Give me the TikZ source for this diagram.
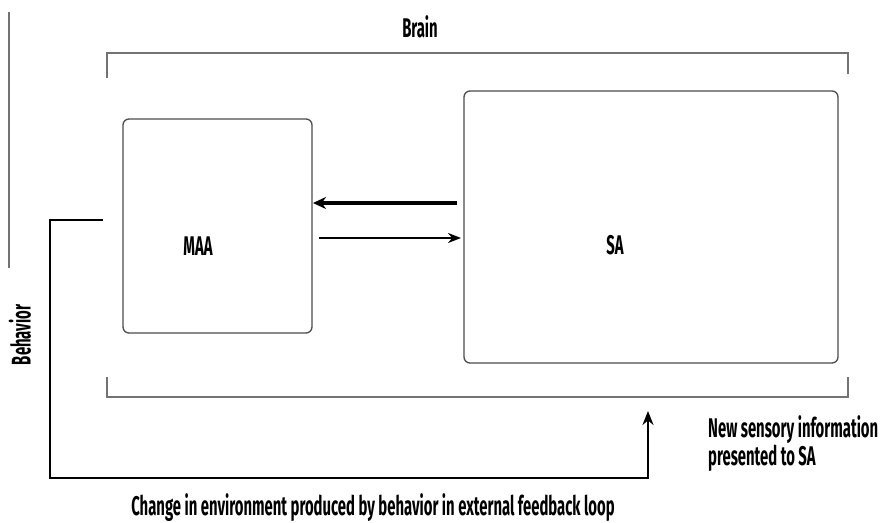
\documentclass[tikz,border=0pt]{standalone}
\usepackage{fontspec}
\setmainfont{Fira Sans}[FakeStretch=0.55]
\usetikzlibrary{arrows.meta}
\begin{document}
\begin{tikzpicture}[x=1pt,y=-1pt,
  bracket/.style={draw=black!55,line width=1.4pt},
  box/.style={draw=black!70,line width=1.3pt,rounded corners=6pt},
  loop/.style={draw=black,line width=2.6pt},
  lbl/.style={font=\fontsize{27}{28}\selectfont\bfseries,inner sep=0pt}]
\useasboundingbox (0,0) rectangle (883,522);
% left margin line
\draw[draw=black!55,line width=1.3pt] (9,12) -- (9,268);
% brain brackets
\node[lbl] (brain) at (420,27) {Brain};
\draw[bracket] (107,78) -- (107,53) -- (848,53) -- (848,74);
\draw[bracket] (107,377) -- (107,397) -- (848,397) -- (848,377);
% boxes
\node[box,minimum width=189pt,minimum height=214pt] (maa) at (217.5,226) {};
\node[lbl] at (198,246) {MAA};
\node[box,minimum width=374pt,minimum height=272pt] (sa) at (651,227) {};
\node[lbl] at (615,245) {SA};
% arrows between
\coordinate (a1s) at (457,203);
\coordinate (a1e) at (313,203);
\draw[line width=4pt,-{Stealth[length=13pt,width=12pt]}] (a1s) -- (a1e);
\coordinate (a2s) at (319,238);
\coordinate (a2e) at (461,238);
\draw[line width=1.8pt,-{Stealth[length=13pt,width=10pt]}] (a2s) -- (a2e);
% feedback loop
\coordinate (fb1) at (103,220);
\coordinate (fb2) at (648,411);
\draw[loop,-{Stealth[length=14pt,width=11pt]}] (fb1) -- (50,220) -- (50,478) -- (648,478) -- (fb2);
% labels
\node[lbl,rotate=90] (beh) at (20,335) {Behavior};
\node[lbl,align=left,anchor=west] (new) at (708,444) {New sensory information\\presented to SA};
\node[lbl] (chg) at (373,508) {Change in environment produced by behavior in external feedback loop};
\end{tikzpicture}
\end{document}
